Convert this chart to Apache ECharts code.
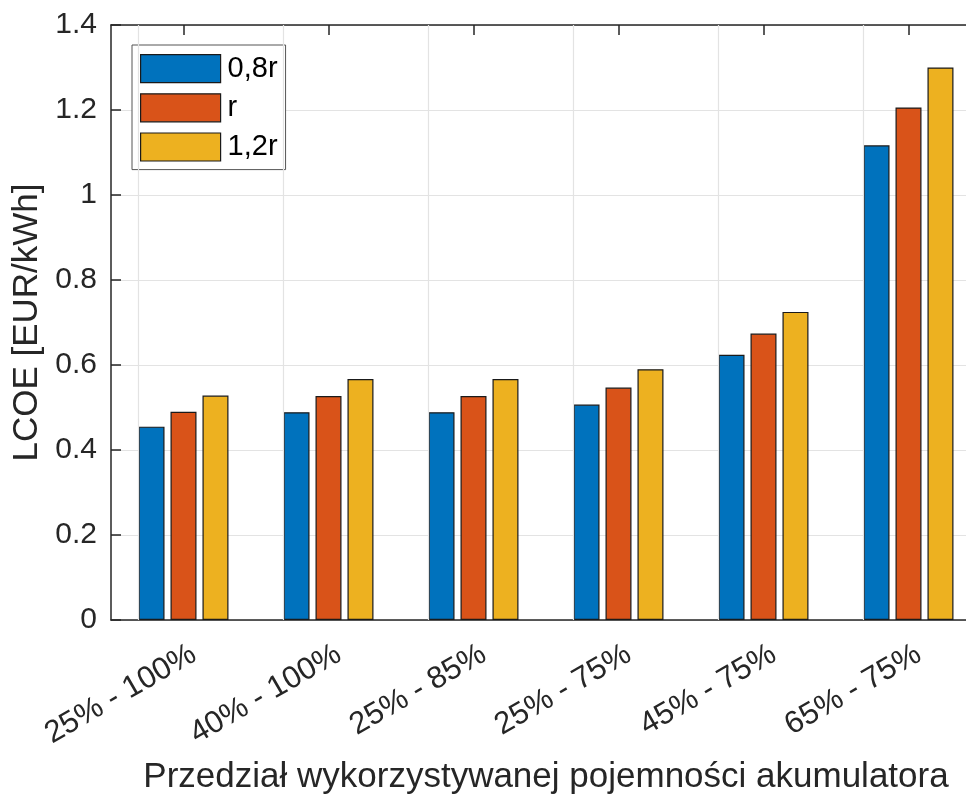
<!DOCTYPE html>
<html>
<head>
<meta charset="utf-8">
<script src="https://cdn.jsdelivr.net/npm/echarts@6/dist/echarts.min.js"></script>
<style>
  html, body { margin: 0; padding: 0; background: #fff; }
  #chart { width: 966px; height: 799px; }
</style>
</head>
<body>
<div id="chart"></div>
<script>
// Battery usable-capacity windows (x categories)
const categories = ['25% - 100%', '40% - 100%', '25% - 85%', '25% - 75%', '45% - 75%', '65% - 75%'];

// LCOE [EUR/kWh] for each discount-rate variant
const seriesNames = ['0,8r', 'r', '1,2r'];
const lcoe08r = [0.455, 0.489, 0.489, 0.507, 0.624, 1.117];
const lcoeR   = [0.490, 0.527, 0.527, 0.547, 0.674, 1.206];
const lcoe12r = [0.528, 0.567, 0.567, 0.590, 0.725, 1.300];

// Y-axis range and step
const yMin = 0, yMax = 1.4, yStep = 0.2;

const colors = ['#0072BD', '#D95319', '#EDB120'];
const font = '"Liberation Sans", Arial, Helvetica, sans-serif';
const ink = '#262626';
const gridGrey = '#e3e3e3';

const chart = echarts.init(document.getElementById('chart'), null, { renderer: 'canvas' });

const barSeries = [lcoe08r, lcoeR, lcoe12r].map((vals, i) => ({
  name: seriesNames[i],
  type: 'bar',
  xAxisIndex: 0,
  yAxisIndex: 0,
  data: vals,
  barWidth: 26,
  barGap: '23%',
  z: 3,
  itemStyle: { color: colors[i], borderColor: '#1a1a1a', borderWidth: 1.2 },
  emphasis: { disabled: true }
}));

chart.setOption({
  animation: false,
  backgroundColor: '#ffffff',
  textStyle: { fontFamily: font },
  // the plot box runs past the right edge of the canvas
  grid: { left: 111, top: 25, width: 870, height: 595, containLabel: false, outerBoundsMode: 'none' },
  legend: {
    orient: 'vertical',
    left: 132,
    top: 45,
    data: seriesNames,
    icon: 'rect',
    itemWidth: 80,
    itemHeight: 28,
    itemGap: 10,
    padding: [9, 8, 8, 8],
    backgroundColor: '#ffffff',
    borderColor: '#555555',
    borderWidth: 1,
    selectedMode: false,
    itemStyle: { borderColor: '#1a1a1a', borderWidth: 1.2 },
    textStyle: { fontFamily: font, fontSize: 29, color: '#000', padding: [0, 0, 0, 2] }
  },
  xAxis: [
    {
      type: 'category',
      data: categories,
      position: 'bottom',
      boundaryGap: true,
      axisLine: { show: true, lineStyle: { color: ink, width: 1.5 } },
      axisTick: { show: true, inside: true, alignWithLabel: true, length: 10, lineStyle: { color: ink, width: 1.5 } },
      axisLabel: { rotate: 30, margin: 38, fontSize: 31, color: ink, fontFamily: font, interval: 0, padding: [0, -12, 0, 0] },
      splitLine: { show: false },
      name: 'Przedział wykorzystywanej pojemności akumulatora',
      nameLocation: 'middle',
      nameGap: 140,
      nameTextStyle: { fontSize: 35, color: ink, fontFamily: font }
    },
    {
      type: 'category',
      data: categories,
      position: 'top',
      boundaryGap: true,
      axisLine: { show: true, lineStyle: { color: ink, width: 1.5 } },
      axisTick: { show: true, inside: true, alignWithLabel: true, length: 10, lineStyle: { color: ink, width: 1.5 } },
      axisLabel: { show: false },
      splitLine: { show: false }
    }
  ],
  yAxis: [
    {
      type: 'value',
      min: yMin,
      max: yMax,
      interval: yStep,
      position: 'left',
      axisLine: { show: true, lineStyle: { color: ink, width: 1.5 } },
      axisTick: { show: true, inside: true, length: 10, lineStyle: { color: ink, width: 1.5 } },
      axisLabel: { margin: 14, fontSize: 30, color: ink, fontFamily: font },
      splitLine: { show: true, lineStyle: { color: gridGrey, width: 1.2 } },
      name: 'LCOE [EUR/kWh]',
      nameLocation: 'middle',
      nameGap: 66,
      nameTextStyle: { fontSize: 35, color: ink, fontFamily: font }
    }
  ],
  series: [
    {
      // vertical grid lines at the category ticks
      type: 'bar',
      xAxisIndex: 0,
      yAxisIndex: 0,
      data: [],
      z: 1,
      silent: true,
      markLine: {
        silent: true,
        symbol: ['none', 'none'],
        label: { show: false },
        lineStyle: { color: gridGrey, width: 1.2, type: 'solid' },
        data: categories.map(c => ({ xAxis: c }))
      }
    },
    ...barSeries
  ]
});
</script>
</body>
</html>
